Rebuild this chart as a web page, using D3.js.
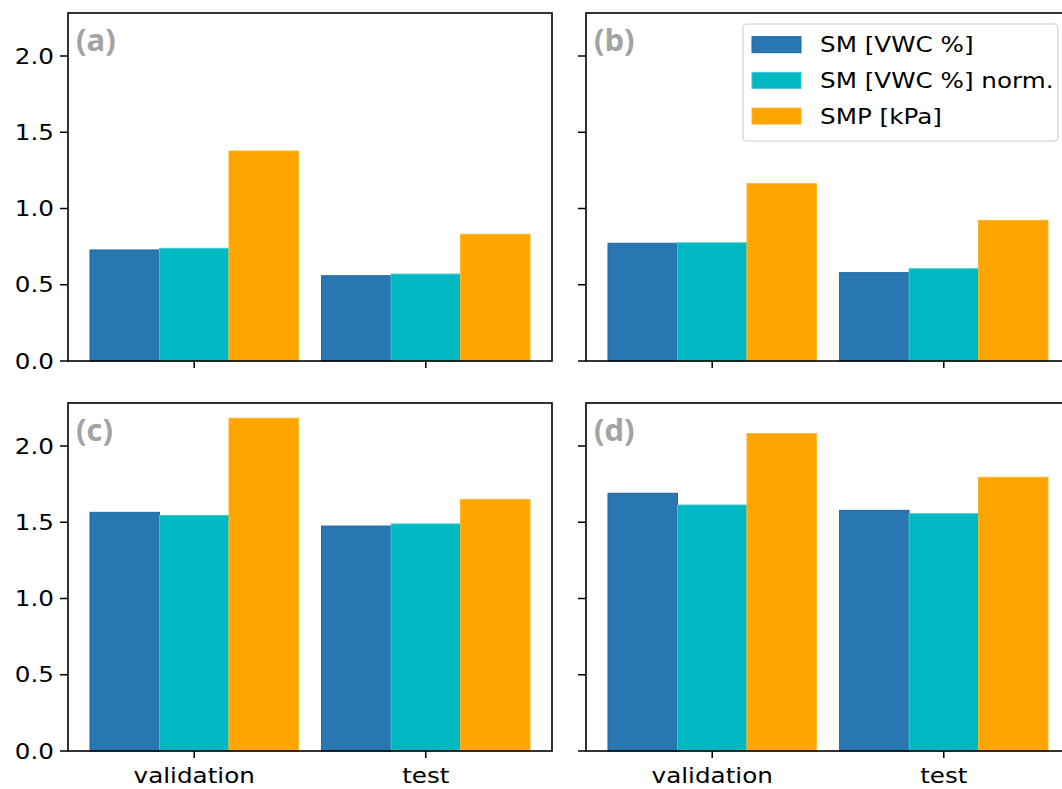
<!DOCTYPE html>
<html>
<head>
<meta charset="utf-8">
<script src="https://cdn.jsdelivr.net/npm/d3@7"></script>
<style>
  html, body { margin: 0; padding: 0; background: #fff; }
  svg { display: block; }
  text { font-family: "DejaVu Sans", sans-serif; fill: #000; }
</style>
</head>
<body>
<svg id="chart" width="1062" height="789"></svg>
<script>
// Categories and panel tags
const categories = ["validation", "test"];
const panelTags = ["(a)", "(b)", "(c)", "(d)"];
const seriesNames = ["SM [VWC %]", "SM [VWC %] norm.", "SMP [kPa]"];
const seriesColors = ["#2977b1", "#00b8c1", "#ffa500"];
const seriesEdges = ["#1a65a6", "#3cc8cf", "#ffb52e"];

// Values per panel: [validation, test]
const smVwc     = [[0.728, 0.559], [0.772, 0.579], [1.565, 1.475], [1.690, 1.578]];
const smVwcNorm = [[0.739, 0.570], [0.775, 0.605], [1.545, 1.489], [1.613, 1.556]];
const smpKpa    = [[1.377, 0.831], [1.163, 0.922], [2.182, 1.650], [2.081, 1.795]];

const yTicks = [0, 0.5, 1.0, 1.5, 2.0];
const yMax = 2.282;

const series = [smVwc, smVwcNorm, smpKpa];
const barWidth = 0.3;
const offsets = [-0.3, 0, 0.3];

const svg = d3.select("#chart");
const textScale = 1.12;
const fontSize = 22;

// Panel frames
const frames = [
  {x0: 68,  x1: 552,  y0: 13,  y1: 361, left: true,  bottom: false},
  {x0: 586, x1: 1070, y0: 13,  y1: 361, left: false, bottom: false},
  {x0: 68,  x1: 552,  y0: 403, y1: 751, left: true,  bottom: true},
  {x0: 586, x1: 1070, y0: 403, y1: 751, left: false, bottom: true}
];

function stretchedText(g, x, y, str, anchor, baseline) {
  return g.append("text")
    .attr("transform", `translate(${x},${y}) scale(${textScale},1)`)
    .attr("text-anchor", anchor)
    .attr("dominant-baseline", baseline)
    .style("font-size", fontSize + "px")
    .text(str);
}

frames.forEach((f, p) => {
  const x = d3.scaleLinear().domain([-0.545, 1.545]).range([f.x0, f.x1]);
  const y = d3.scaleLinear().domain([0, yMax]).range([f.y1, f.y0]);
  const g = svg.append("g");

  // Bars
  series.forEach((s, si) => {
    g.selectAll(null)
      .data(s[p])
      .enter()
      .append("rect")
      .attr("x", (d, i) => x(i + offsets[si] - barWidth / 2))
      .attr("width", x(barWidth) - x(0))
      .attr("y", d => y(d))
      .attr("height", d => y(0) - y(d))
      .attr("fill", seriesColors[si])
      .attr("stroke", seriesEdges[si])
      .attr("stroke-width", 1);
  });

  // Frame
  g.append("rect")
    .attr("x", f.x0).attr("y", f.y0)
    .attr("width", f.x1 - f.x0).attr("height", f.y1 - f.y0)
    .attr("fill", "none").attr("stroke", "#000").attr("stroke-width", 1.6);

  // Y ticks
  yTicks.forEach(t => {
    g.append("line")
      .attr("x1", f.x0 - 8).attr("x2", f.x0)
      .attr("y1", y(t)).attr("y2", y(t))
      .attr("stroke", "#000").attr("stroke-width", 1.5);
    if (f.left) {
      stretchedText(g, f.x0 - 14, y(t), d3.format(".1f")(t), "end", "central");
    }
  });

  // X ticks
  categories.forEach((c, i) => {
    g.append("line")
      .attr("x1", x(i)).attr("x2", x(i))
      .attr("y1", f.y1).attr("y2", f.y1 + 7)
      .attr("stroke", "#000").attr("stroke-width", 1.5);
    if (f.bottom) {
      stretchedText(g, x(i), f.y1 + 32, c, "middle", "auto");
    }
  });

  // Panel tag
  g.append("text")
    .attr("x", f.x0 + 8).attr("y", f.y0 + 38)
    .style("font-family", "'Open Sans', sans-serif")
    .style("font-weight", "bold")
    .style("font-size", "31px")
    .style("fill", "#a3a3a3")
    .text(panelTags[p]);
});

// Legend in panel (b)
const lg = svg.append("g");
lg.append("rect")
  .attr("x", 743).attr("y", 24).attr("width", 315).attr("height", 117)
  .attr("rx", 4).attr("ry", 4)
  .attr("fill", "#fff").attr("fill-opacity", 0.8)
  .attr("stroke", "#d0d0d0").attr("stroke-width", 1.2);
seriesNames.forEach((name, i) => {
  const cy = 44.7 + i * 35.7;
  lg.append("rect")
    .attr("x", 752).attr("y", cy - 8).attr("width", 49).attr("height", 16)
    .attr("fill", seriesColors[i]).attr("stroke", seriesEdges[i]).attr("stroke-width", 1);
  stretchedText(lg, 820, cy, name, "start", "central");
});
</script>
</body>
</html>
